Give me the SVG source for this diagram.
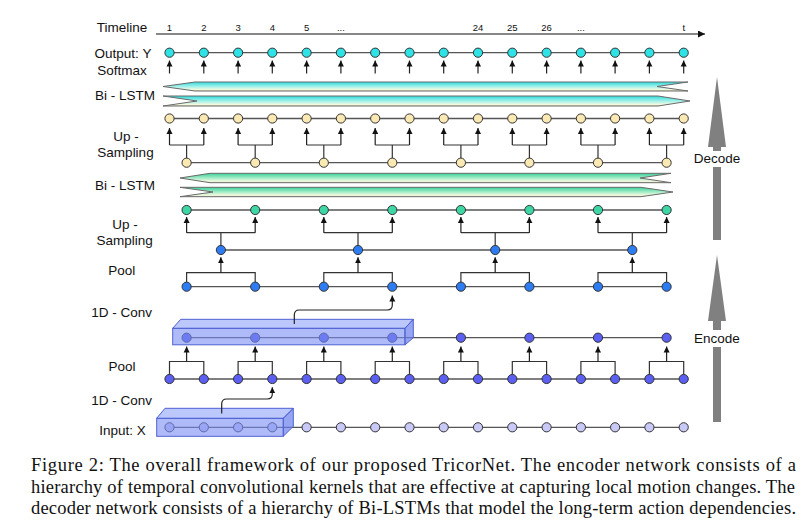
<svg xmlns="http://www.w3.org/2000/svg" width="808" height="526" viewBox="0 0 808 526">
<style>
.lbl{font-family:"Liberation Sans",Arial,sans-serif;font-size:13.5px;fill:#111;text-anchor:middle}
.tl{font-family:"Liberation Sans",Arial,sans-serif;font-size:9.5px;fill:#111;text-anchor:middle}
.cap{font-family:"Liberation Serif","Times New Roman",serif;font-size:18.5px;fill:#111}
.ln{stroke:#555;stroke-width:1.3;fill:none}
.br{stroke:#333;stroke-width:1.2;fill:none}
.ar{stroke:#222;stroke-width:1.2;fill:none;marker-end:url(#ah)}
.n{stroke:#333;stroke-width:1}
.cy{fill:#2fe2e6}
.ye{fill:#fbe9b4}
.gr{fill:#3ed6a4}
.bl{fill:#2d7cf2}
.pu{fill:#5b5ff2}
.la{fill:#c9c9f7}
.bar{stroke:#6a6a6a;stroke-width:1}
.bf{fill:#7a8ef4;fill-opacity:.6;stroke:#4f60d2;stroke-width:1}
.bt{fill:#9fb0fb;fill-opacity:.7;stroke:#4f60d2;stroke-width:1}
.bs{fill:#6a7fec;fill-opacity:.7;stroke:#4f60d2;stroke-width:1}
.big{fill:#808080}
</style>
<defs>
<marker id="ah" viewBox="0 0 10 10" refX="10" refY="5" markerWidth="6" markerHeight="6.5" markerUnits="userSpaceOnUse" orient="auto"><path d="M0,0 L10,5 L0,10 z" fill="#111"/></marker>
<marker id="ahT" viewBox="0 0 10 10" refX="10" refY="5" markerWidth="8" markerHeight="7" markerUnits="userSpaceOnUse" orient="auto"><path d="M0,0 L10,5 L0,10 z" fill="#111"/></marker>
<linearGradient id="gc" x1="0" y1="0" x2="0" y2="1"><stop offset="0" stop-color="#2edcdc"/><stop offset="0.5" stop-color="#a2f0ea"/><stop offset="0.85" stop-color="#f2fae2"/><stop offset="1" stop-color="#d6d2a4"/></linearGradient>
<linearGradient id="gg" x1="0" y1="0" x2="0" y2="1"><stop offset="0" stop-color="#3ad29a"/><stop offset="0.5" stop-color="#a4ecc8"/><stop offset="0.85" stop-color="#f2fae2"/><stop offset="1" stop-color="#d6d6a6"/></linearGradient>
</defs>
<rect width="808" height="526" fill="#fff"/>

<g id="labels">
<text class="lbl" x="122" y="32">Timeline</text>
<text class="lbl" x="123" y="57.5">Output: Y</text>
<text class="lbl" x="122" y="75">Softmax</text>
<text class="lbl" x="125" y="100">Bi - LSTM</text>
<text class="lbl" x="126" y="141">Up -</text>
<text class="lbl" x="125.5" y="157">Sampling</text>
<text class="lbl" x="125" y="189.5">Bi - LSTM</text>
<text class="lbl" x="125" y="228.5">Up -</text>
<text class="lbl" x="124.7" y="245">Sampling</text>
<text class="lbl" x="121.7" y="275">Pool</text>
<text class="lbl" x="121.7" y="316.7">1D - Conv</text>
<text class="lbl" x="122" y="371">Pool</text>
<text class="lbl" x="121.7" y="405">1D - Conv</text>
<text class="lbl" x="122.5" y="434.5">Input: X</text>
</g>

<g id="timeline">
<line x1="156" y1="34" x2="705" y2="34" stroke="#111" stroke-width="1.2" marker-end="url(#ahT)"/>
<text class="tl" x="169.5" y="30.5">1</text>
<text class="tl" x="203.8" y="30.5">2</text>
<text class="tl" x="238.1" y="30.5">3</text>
<text class="tl" x="272.3" y="30.5">4</text>
<text class="tl" x="306.6" y="30.5">5</text>
<text class="tl" x="340.9" y="30.5">...</text>
<text class="tl" x="478.0" y="30.5">24</text>
<text class="tl" x="512.3" y="30.5">25</text>
<text class="tl" x="546.6" y="30.5">26</text>
<text class="tl" x="580.9" y="30.5">...</text>
<text class="tl" x="683.7" y="30.5">t</text>
</g>

<g id="connectors">
<!-- row lines -->
<line class="ln" x1="169.5" y1="52.7" x2="683.7" y2="52.7"/>
<line class="ln" x1="169.5" y1="118.5" x2="683.7" y2="118.5"/>
<line class="ln" x1="186.6" y1="162.7" x2="666.6" y2="162.7"/>
<line class="ln" x1="186.6" y1="210" x2="666.6" y2="210"/>
<line class="ln" x1="220.9" y1="250" x2="632.3" y2="250"/>
<line class="ln" x1="186.6" y1="286.7" x2="666.6" y2="286.7"/>
<line class="ln" x1="186.6" y1="337.7" x2="666.6" y2="337.7"/>
<line class="ln" x1="169.5" y1="379" x2="683.7" y2="379"/>
<line class="ln" x1="169.5" y1="427.3" x2="683.7" y2="427.3"/>
<!-- softmax arrows -->
<g>
<line class="ar" x1="169.5" y1="73.5" x2="169.5" y2="60.5"/><line class="ar" x1="203.8" y1="73.5" x2="203.8" y2="60.5"/>
<line class="ar" x1="238.1" y1="73.5" x2="238.1" y2="60.5"/><line class="ar" x1="272.3" y1="73.5" x2="272.3" y2="60.5"/>
<line class="ar" x1="306.6" y1="73.5" x2="306.6" y2="60.5"/><line class="ar" x1="340.9" y1="73.5" x2="340.9" y2="60.5"/>
<line class="ar" x1="375.2" y1="73.5" x2="375.2" y2="60.5"/><line class="ar" x1="409.5" y1="73.5" x2="409.5" y2="60.5"/>
<line class="ar" x1="443.7" y1="73.5" x2="443.7" y2="60.5"/><line class="ar" x1="478.0" y1="73.5" x2="478.0" y2="60.5"/>
<line class="ar" x1="512.3" y1="73.5" x2="512.3" y2="60.5"/><line class="ar" x1="546.6" y1="73.5" x2="546.6" y2="60.5"/>
<line class="ar" x1="580.9" y1="73.5" x2="580.9" y2="60.5"/><line class="ar" x1="615.1" y1="73.5" x2="615.1" y2="60.5"/>
<line class="ar" x1="649.4" y1="73.5" x2="649.4" y2="60.5"/><line class="ar" x1="683.7" y1="73.5" x2="683.7" y2="60.5"/>
</g>
<!-- up-sampling 1 -->
<g>
<path class="br" d="M169.5,145H203.8M186.6,145V158.2M238.1,145H272.3M255.2,145V158.2M306.6,145H340.9M323.8,145V158.2M375.2,145H409.5M392.3,145V158.2M443.7,145H478.0M460.9,145V158.2M512.3,145H546.6M529.4,145V158.2M580.9,145H615.1M598.0,145V158.2M649.4,145H683.7M666.6,145V158.2"/>
<line class="ar" x1="169.5" y1="145" x2="169.5" y2="128"/><line class="ar" x1="203.8" y1="145" x2="203.8" y2="128"/>
<line class="ar" x1="238.1" y1="145" x2="238.1" y2="128"/><line class="ar" x1="272.3" y1="145" x2="272.3" y2="128"/>
<line class="ar" x1="306.6" y1="145" x2="306.6" y2="128"/><line class="ar" x1="340.9" y1="145" x2="340.9" y2="128"/>
<line class="ar" x1="375.2" y1="145" x2="375.2" y2="128"/><line class="ar" x1="409.5" y1="145" x2="409.5" y2="128"/>
<line class="ar" x1="443.7" y1="145" x2="443.7" y2="128"/><line class="ar" x1="478.0" y1="145" x2="478.0" y2="128"/>
<line class="ar" x1="512.3" y1="145" x2="512.3" y2="128"/><line class="ar" x1="546.6" y1="145" x2="546.6" y2="128"/>
<line class="ar" x1="580.9" y1="145" x2="580.9" y2="128"/><line class="ar" x1="615.1" y1="145" x2="615.1" y2="128"/>
<line class="ar" x1="649.4" y1="145" x2="649.4" y2="128"/><line class="ar" x1="683.7" y1="145" x2="683.7" y2="128"/>
</g>
<!-- up-sampling 2 -->
<g>
<path class="br" d="M186.6,232.7H255.2M220.9,232.7V245.5M323.8,232.7H392.3M358.0,232.7V245.5M460.9,232.7H529.4M495.2,232.7V245.5M598.0,232.7H666.6M632.3,232.7V245.5"/>
<line class="ar" x1="186.6" y1="232.7" x2="186.6" y2="217"/><line class="ar" x1="255.2" y1="232.7" x2="255.2" y2="217"/>
<line class="ar" x1="323.8" y1="232.7" x2="323.8" y2="217"/><line class="ar" x1="392.3" y1="232.7" x2="392.3" y2="217"/>
<line class="ar" x1="460.9" y1="232.7" x2="460.9" y2="217"/><line class="ar" x1="529.4" y1="232.7" x2="529.4" y2="217"/>
<line class="ar" x1="598.0" y1="232.7" x2="598.0" y2="217"/><line class="ar" x1="666.6" y1="232.7" x2="666.6" y2="217"/>
</g>
<!-- pool upper -->
<g>
<path class="br" d="M186.6,282.2V272.7H255.2V282.2M323.8,282.2V272.7H392.3V282.2M460.9,282.2V272.7H529.4V282.2M598.0,282.2V272.7H666.6V282.2"/>
<line class="ar" x1="220.9" y1="272.7" x2="220.9" y2="257.3"/><line class="ar" x1="358.0" y1="272.7" x2="358.0" y2="257.3"/>
<line class="ar" x1="495.2" y1="272.7" x2="495.2" y2="257.3"/><line class="ar" x1="632.3" y1="272.7" x2="632.3" y2="257.3"/>
</g>
<!-- pool lower -->
<g>
<path class="br" d="M169.5,374.5V361.5H203.8V374.5M238.1,374.5V361.5H272.3V374.5M306.6,374.5V361.5H340.9V374.5M375.2,374.5V361.5H409.5V374.5M443.7,374.5V361.5H478.0V374.5M512.3,374.5V361.5H546.6V374.5M580.9,374.5V361.5H615.1V374.5M649.4,374.5V361.5H683.7V374.5"/>
<line class="ar" x1="186.6" y1="361.5" x2="186.6" y2="346.5"/><line class="ar" x1="255.2" y1="361.5" x2="255.2" y2="346.5"/>
<line class="ar" x1="323.8" y1="361.5" x2="323.8" y2="346.5"/><line class="ar" x1="392.3" y1="361.5" x2="392.3" y2="346.5"/>
<line class="ar" x1="460.9" y1="361.5" x2="460.9" y2="346.5"/><line class="ar" x1="529.4" y1="361.5" x2="529.4" y2="346.5"/>
<line class="ar" x1="598.0" y1="361.5" x2="598.0" y2="346.5"/><line class="ar" x1="666.6" y1="361.5" x2="666.6" y2="346.5"/>
</g>
</g>

<g id="bilstm-top">
<polygon class="bar" fill="url(#gc)" points="163,86.5 195,82 688,82 657,86.5 688,91 195,91"/>
<polygon class="bar" fill="url(#gc)" points="163,96 197,101 163,106 658,106 690,101 658,96"/>
</g>
<g id="bilstm-mid">
<polygon class="bar" fill="url(#gg)" points="180,178 210,173.3 671,173.3 640,178 671,182.7 210,182.7"/>
<polygon class="bar" fill="url(#gg)" points="180,187.3 213,192 180,196.7 641,196.7 673,192 641,187.3"/>
</g>

<g id="nodes-output">
<circle class="n cy" cx="169.5" cy="52.7" r="4.6"/><circle class="n cy" cx="203.8" cy="52.7" r="4.6"/><circle class="n cy" cx="238.1" cy="52.7" r="4.6"/><circle class="n cy" cx="272.3" cy="52.7" r="4.6"/>
<circle class="n cy" cx="306.6" cy="52.7" r="4.6"/><circle class="n cy" cx="340.9" cy="52.7" r="4.6"/><circle class="n cy" cx="375.2" cy="52.7" r="4.6"/><circle class="n cy" cx="409.5" cy="52.7" r="4.6"/>
<circle class="n cy" cx="443.7" cy="52.7" r="4.6"/><circle class="n cy" cx="478.0" cy="52.7" r="4.6"/><circle class="n cy" cx="512.3" cy="52.7" r="4.6"/><circle class="n cy" cx="546.6" cy="52.7" r="4.6"/>
<circle class="n cy" cx="580.9" cy="52.7" r="4.6"/><circle class="n cy" cx="615.1" cy="52.7" r="4.6"/><circle class="n cy" cx="649.4" cy="52.7" r="4.6"/><circle class="n cy" cx="683.7" cy="52.7" r="4.6"/>
</g>
<g id="nodes-upsample1-top">
<circle class="n ye" cx="169.5" cy="118.5" r="4.6"/><circle class="n ye" cx="203.8" cy="118.5" r="4.6"/><circle class="n ye" cx="238.1" cy="118.5" r="4.6"/><circle class="n ye" cx="272.3" cy="118.5" r="4.6"/>
<circle class="n ye" cx="306.6" cy="118.5" r="4.6"/><circle class="n ye" cx="340.9" cy="118.5" r="4.6"/><circle class="n ye" cx="375.2" cy="118.5" r="4.6"/><circle class="n ye" cx="409.5" cy="118.5" r="4.6"/>
<circle class="n ye" cx="443.7" cy="118.5" r="4.6"/><circle class="n ye" cx="478.0" cy="118.5" r="4.6"/><circle class="n ye" cx="512.3" cy="118.5" r="4.6"/><circle class="n ye" cx="546.6" cy="118.5" r="4.6"/>
<circle class="n ye" cx="580.9" cy="118.5" r="4.6"/><circle class="n ye" cx="615.1" cy="118.5" r="4.6"/><circle class="n ye" cx="649.4" cy="118.5" r="4.6"/><circle class="n ye" cx="683.7" cy="118.5" r="4.6"/>
</g>
<g id="nodes-upsample1-bottom">
<circle class="n ye" cx="186.6" cy="162.7" r="4.6"/><circle class="n ye" cx="255.2" cy="162.7" r="4.6"/><circle class="n ye" cx="323.8" cy="162.7" r="4.6"/><circle class="n ye" cx="392.3" cy="162.7" r="4.6"/>
<circle class="n ye" cx="460.9" cy="162.7" r="4.6"/><circle class="n ye" cx="529.4" cy="162.7" r="4.6"/><circle class="n ye" cx="598.0" cy="162.7" r="4.6"/><circle class="n ye" cx="666.6" cy="162.7" r="4.6"/>
</g>
<g id="nodes-upsample2-top">
<circle class="n gr" cx="186.6" cy="210" r="4.6"/><circle class="n gr" cx="255.2" cy="210" r="4.6"/><circle class="n gr" cx="323.8" cy="210" r="4.6"/><circle class="n gr" cx="392.3" cy="210" r="4.6"/>
<circle class="n gr" cx="460.9" cy="210" r="4.6"/><circle class="n gr" cx="529.4" cy="210" r="4.6"/><circle class="n gr" cx="598.0" cy="210" r="4.6"/><circle class="n gr" cx="666.6" cy="210" r="4.6"/>
</g>
<g id="nodes-pool-top">
<circle class="n bl" cx="220.9" cy="250" r="4.6"/><circle class="n bl" cx="358.0" cy="250" r="4.6"/><circle class="n bl" cx="495.2" cy="250" r="4.6"/><circle class="n bl" cx="632.3" cy="250" r="4.6"/>
</g>
<g id="nodes-conv2-out">
<circle class="n bl" cx="186.6" cy="286.7" r="4.6"/><circle class="n bl" cx="255.2" cy="286.7" r="4.6"/><circle class="n bl" cx="323.8" cy="286.7" r="4.6"/><circle class="n bl" cx="392.3" cy="286.7" r="4.6"/>
<circle class="n bl" cx="460.9" cy="286.7" r="4.6"/><circle class="n bl" cx="529.4" cy="286.7" r="4.6"/><circle class="n bl" cx="598.0" cy="286.7" r="4.6"/><circle class="n bl" cx="666.6" cy="286.7" r="4.6"/>
</g>
<g id="nodes-pool1-out">
<circle class="n pu" cx="186.6" cy="337.7" r="4.6"/><circle class="n pu" cx="255.2" cy="337.7" r="4.6"/><circle class="n pu" cx="323.8" cy="337.7" r="4.6"/><circle class="n pu" cx="392.3" cy="337.7" r="4.6"/>
<circle class="n pu" cx="460.9" cy="337.7" r="4.6"/><circle class="n pu" cx="529.4" cy="337.7" r="4.6"/><circle class="n pu" cx="598.0" cy="337.7" r="4.6"/><circle class="n pu" cx="666.6" cy="337.7" r="4.6"/>
</g>
<g id="nodes-conv1-out">
<circle class="n pu" cx="169.5" cy="379" r="4.6"/><circle class="n pu" cx="203.8" cy="379" r="4.6"/><circle class="n pu" cx="238.1" cy="379" r="4.6"/><circle class="n pu" cx="272.3" cy="379" r="4.6"/>
<circle class="n pu" cx="306.6" cy="379" r="4.6"/><circle class="n pu" cx="340.9" cy="379" r="4.6"/><circle class="n pu" cx="375.2" cy="379" r="4.6"/><circle class="n pu" cx="409.5" cy="379" r="4.6"/>
<circle class="n pu" cx="443.7" cy="379" r="4.6"/><circle class="n pu" cx="478.0" cy="379" r="4.6"/><circle class="n pu" cx="512.3" cy="379" r="4.6"/><circle class="n pu" cx="546.6" cy="379" r="4.6"/>
<circle class="n pu" cx="580.9" cy="379" r="4.6"/><circle class="n pu" cx="615.1" cy="379" r="4.6"/><circle class="n pu" cx="649.4" cy="379" r="4.6"/><circle class="n pu" cx="683.7" cy="379" r="4.6"/>
</g>
<g id="nodes-input">
<circle class="n la" cx="169.5" cy="427.3" r="4.6"/><circle class="n la" cx="203.8" cy="427.3" r="4.6"/><circle class="n la" cx="238.1" cy="427.3" r="4.6"/><circle class="n la" cx="272.3" cy="427.3" r="4.6"/>
<circle class="n la" cx="306.6" cy="427.3" r="4.6"/><circle class="n la" cx="340.9" cy="427.3" r="4.6"/><circle class="n la" cx="375.2" cy="427.3" r="4.6"/><circle class="n la" cx="409.5" cy="427.3" r="4.6"/>
<circle class="n la" cx="443.7" cy="427.3" r="4.6"/><circle class="n la" cx="478.0" cy="427.3" r="4.6"/><circle class="n la" cx="512.3" cy="427.3" r="4.6"/><circle class="n la" cx="546.6" cy="427.3" r="4.6"/>
<circle class="n la" cx="580.9" cy="427.3" r="4.6"/><circle class="n la" cx="615.1" cy="427.3" r="4.6"/><circle class="n la" cx="649.4" cy="427.3" r="4.6"/><circle class="n la" cx="683.7" cy="427.3" r="4.6"/>
</g>

<g id="conv-box-upper">
<rect class="bf" x="172.7" y="328.3" width="232.3" height="16.5"/>
<polygon class="bt" points="172.7,328.3 180.7,319.3 413.3,319.3 405,328.3"/>
<polygon class="bs" points="405,328.3 413.3,319.3 413.3,337.8 405,344.8"/>
</g>
<g id="conv-box-lower">
<rect class="bf" x="156.7" y="418.3" width="126.6" height="18"/>
<polygon class="bt" points="156.7,418.3 165,408.3 293.3,408.3 283.3,418.3"/>
<polygon class="bs" points="283.3,418.3 293.3,408.3 293.3,426.3 283.3,436.3"/>
</g>
<g id="conv-connectors">
<path class="ar" d="M294.3,324V315Q294.3,310 299.3,310H387.3Q392.3,310 392.3,305V295.5"/>
<path class="ar" d="M221.7,413.5V404Q221.7,399 226.7,399H267.3Q272.3,399 272.3,394V387.3"/>
</g>

<g id="decode-arrow">
<polygon class="big" points="717,77 726,147 721,147 721,151 713,151 713,147 708,147"/>
<rect class="big" x="713" y="167" width="8" height="73"/>
<text class="lbl" x="717" y="162.7">Decode</text>
</g>
<g id="encode-arrow">
<polygon class="big" points="717,255 726,321 721,321 721,330 713,330 713,321 708,321"/>
<rect class="big" x="713" y="347" width="8" height="75"/>
<text class="lbl" x="717" y="342.7">Encode</text>
</g>

<g id="caption">
<text class="cap" x="31" y="471" textLength="765" lengthAdjust="spacing">Figure 2: The overall framework of our proposed TricorNet. The encoder network consists of a</text>
<text class="cap" x="31" y="492.5" textLength="764" lengthAdjust="spacing">hierarchy of temporal convolutional kernels that are effective at capturing local motion changes. The</text>
<text class="cap" x="31" y="514" textLength="765" lengthAdjust="spacing">decoder network consists of a hierarchy of Bi-LSTMs that model the long-term action dependencies.</text>
</g>
</svg>
